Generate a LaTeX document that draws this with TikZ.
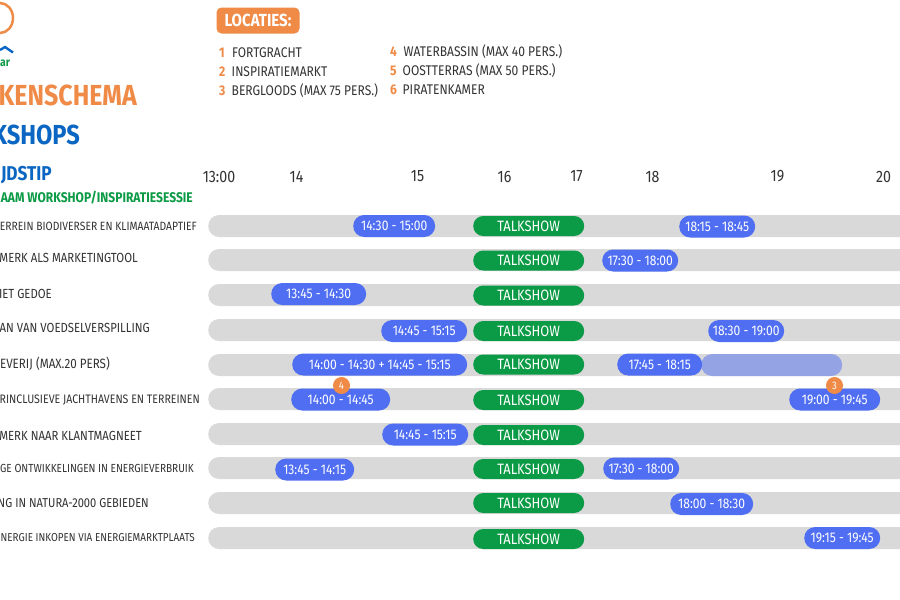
\documentclass[tikz,border=0pt]{standalone}
\usepackage{fontspec}
\setmainfont{Fira Sans}[FakeStretch=0.86]
\usetikzlibrary{shapes.misc}
\definecolor{orangeC}{HTML}{EF8A47}
\definecolor{blueT}{HTML}{0A66C2}
\definecolor{greenT}{HTML}{0B9A45}
\definecolor{pillB}{HTML}{4F6EF2}
\definecolor{pillL}{HTML}{93A3E3}
\definecolor{barG}{HTML}{D9D9D9}
\definecolor{txt}{HTML}{333333}
\newcommand{\fs}[1]{\fontsize{#1}{#1}\selectfont}
\tikzset{
 x=1pt,y=-1pt,
 pillbase/.style={rounded rectangle,inner sep=0pt,minimum height=22pt,anchor=west,text=white,font=\fs{14}},
 bar/.style={pillbase,fill=barG,minimum width=760pt},
 slot/.style={pillbase,fill=pillB},
 slotlight/.style={pillbase,fill=pillL},
 talk/.style={pillbase,fill=greenT,minimum width=111pt,minimum height=20pt,font=\fs{15}},
 badge/.style={circle,fill=orangeC,text=white,inner sep=0pt,minimum size=17pt,font=\fs{11}},
 hour/.style={text=txt,anchor=center,font=\fs{16.5}},
 rowlabel/.style={anchor=east,text=txt,inner sep=0pt},
 locnum/.style={anchor=west,text=orangeC,inner sep=0pt,font=\fs{14}\bfseries},
 loc/.style={anchor=west,text=txt,inner sep=0pt,font=\fs{14}},
}
\begin{document}
\begin{tikzpicture}
\useasboundingbox (0,0) rectangle (900,600);
\clip (0,0) rectangle (900,600);
\fill[white] (0,0) rectangle (900,600);
% logo
\draw[orangeC,line width=2.5pt] (0,18) ellipse [x radius=13,y radius=15];
\draw[blueT,line width=2.4pt] (0,50) -- (5,47) -- (13,52.5);
\node[anchor=west,inner sep=0pt,text=greenT,font=\fs{12}\bfseries] (logotext) at (0,63.5) {ar};
% titles
\node[anchor=east,inner sep=0pt,text=orangeC,font=\fs{29}\bfseries] (title1) at (137,95) {KENSCHEMA};
\node[anchor=east,inner sep=0pt,text=blueT,font=\fs{27.5}\bfseries] (title2) at (80,135) {KSHOPS};
\node[anchor=east,inner sep=0pt,text=blueT,font=\fs{20}\bfseries] (tijd) at (52,175) {JDSTIP};
\node[anchor=east,inner sep=0pt,text=greenT,font=\fs{14}\bfseries] (naam) at (193,198) {AAM WORKSHOP/INSPIRATIESESSIE};
% legend
\node[fill=orangeC,rounded corners=5pt,text=white,inner sep=0pt,minimum width=83pt,minimum height=26pt,font=\fs{17.5}\bfseries] (loch) at (258,20.5) {LOCATIES:};
\node[locnum] (n1) at (219,53) {1}; \node[loc] (l1) at (232,53) {FORTGRACHT};
\node[locnum] (n2) at (219,72) {2}; \node[loc] (l2) at (231.5,72) {INSPIRATIEMARKT};
\node[locnum] (n3) at (219,90.5) {3}; \node[loc] (l3) at (231.5,90.5) {BERGLOODS (MAX 75 PERS.)};
\node[locnum] (n4) at (390,52) {4}; \node[loc] (l4) at (403.5,52) {WATERBASSIN (MAX 40 PERS.)};
\node[locnum] (n5) at (390,71) {5}; \node[loc] (l5) at (402.5,71) {OOSTTERRAS (MAX 50 PERS.)};
\node[locnum] (n6) at (390,90) {6}; \node[loc] (l6) at (402.5,90) {PIRATENKAMER};
% hours
\foreach \t/\x/\n in {13:00/219/a,14/296.5/b,15/417.5/c,16/504.5/d,17/576.5/e,18/652.5/f,19/777.5/g,20/883.5/h}
  \node[hour] (h\n) at (\x,176.5) {\t};
% row labels
\node[rowlabel,font=\fs{12}] (r1) at (197,226) {ERREIN BIODIVERSER EN KLIMAATADAPTIEF};
\node[rowlabel,font=\fs{13.2}] (r2) at (138,258) {MERK ALS MARKETINGTOOL};
\node[rowlabel,font=\fs{13.2}] (r3) at (52,294) {IET GEDOE};
\node[rowlabel,font=\fs{13.2}] (r4) at (150,328) {AN VAN VOEDSELVERSPILLING};
\node[rowlabel,font=\fs{13.5}] (r5) at (110,364) {EVERIJ (MAX.20 PERS)};
\node[rowlabel,font=\fs{12.3}] (r6) at (200,400) {RINCLUSIEVE JACHTHAVENS EN TERREINEN};
\node[rowlabel,font=\fs{13.2}] (r7) at (142,436) {MERK NAAR KLANTMAGNEET};
\node[rowlabel,font=\fs{11.7}] (r8) at (194,468) {GE ONTWIKKELINGEN IN ENERGIEVERBRUIK};
\node[rowlabel,font=\fs{12.9}] (r9) at (149,503) {NG IN NATURA-2000 GEBIEDEN};
\node[rowlabel,font=\fs{11.5}] (r10) at (195,537.5) {NERGIE INKOPEN VIA ENERGIEMARKTPLAATS};
% bars
\foreach \y/\n in {226/1,260/2,295/3,330/4,365/5,399/6,434/7,468/8,503/9,538/10}
  \node[bar] (bar\n) at (208,\y) {};
% talkshow
\foreach \y/\n in {226/1,260.5/2,295.5/3,331/4,364.5/5,400/6,435/7,469/8,503/9,539/10}
  \node[talk] (talk\n) at (473,\y) {TALKSHOW};
% slots
\node[slotlight,minimum width=141pt] (s5c) at (701,365) {};
\node[slot,minimum width=82pt] (s1a) at (353,226) {14:30 - 15:00};
\node[slot,minimum width=76pt] (s1b) at (679,226.5) {18:15 - 18:45};
\node[slot,minimum width=76pt] (s2a) at (602,260.5) {17:30 - 18:00};
\node[slot,minimum width=95pt] (s3a) at (271,294) {13:45 - 14:30};
\node[slot,minimum width=86pt] (s4a) at (381,331) {14:45 - 15:15};
\node[slot,minimum width=76pt] (s4b) at (708,331) {18:30 - 19:00};
\node[slot,minimum width=175pt] (s5a) at (292,364.5) {14:00 - 14:30 + 14:45 - 15:15};
\node[slot,minimum width=85pt] (s5b) at (617,364.5) {17:45 - 18:15};
\node[slot,minimum width=99pt] (s6a) at (291,399.5) {14:00 - 14:45};
\node[slot,minimum width=91pt] (s6b) at (789,399.5) {19:00 - 19:45};
\node[slot,minimum width=86pt] (s7a) at (382,434.5) {14:45 - 15:15};
\node[slot,minimum width=79pt] (s8a) at (275,469.5) {13:45 - 14:15};
\node[slot,minimum width=76pt] (s8b) at (603,468.5) {17:30 - 18:00};
\node[slot,minimum width=83pt] (s9a) at (670,504) {18:00 - 18:30};
\node[slot,minimum width=76pt] (s10a) at (804,538) {19:15 - 19:45};
\node[badge] (b4) at (341.5,385.5) {4};
\node[badge] (b3) at (834.5,385.5) {3};
\end{tikzpicture}
\end{document}
